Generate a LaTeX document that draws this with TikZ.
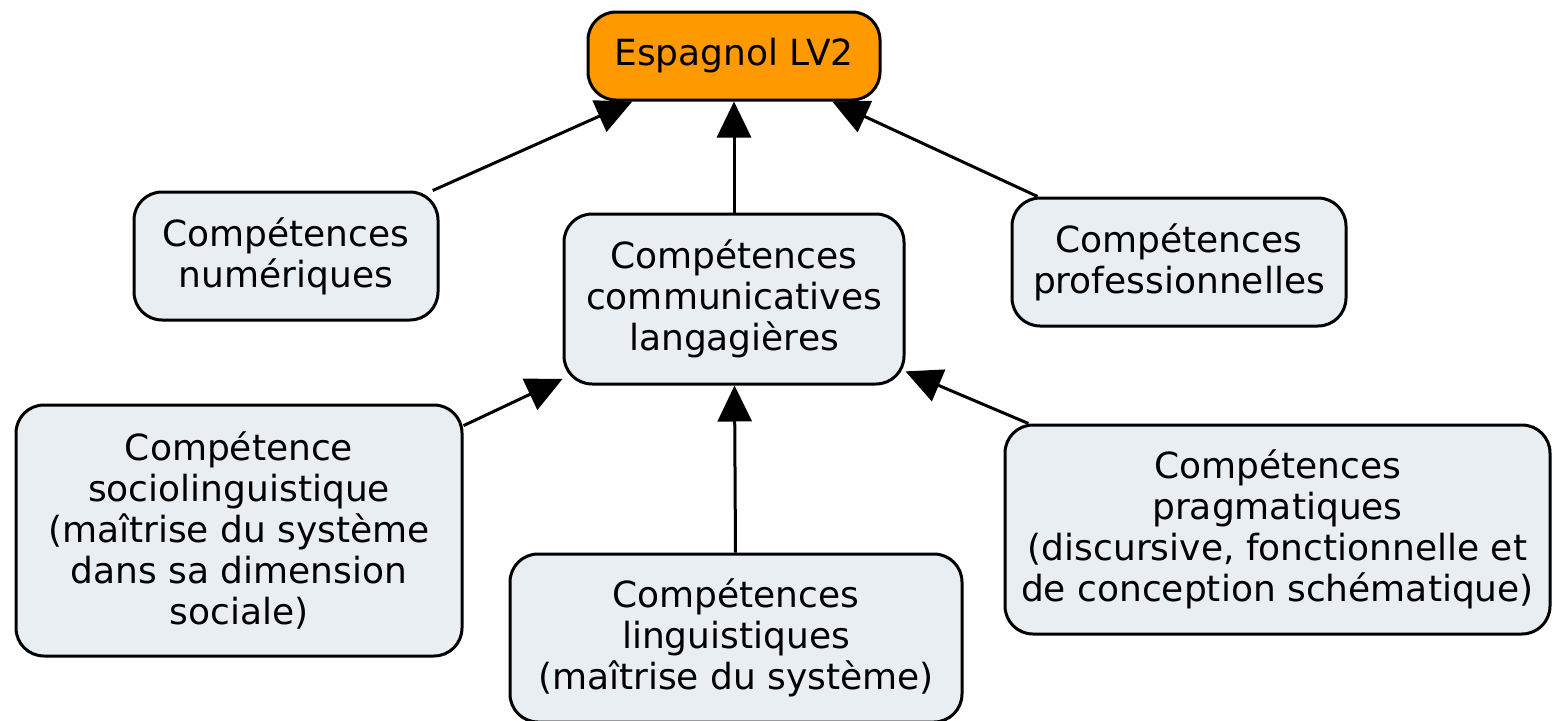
\documentclass[tikz,border=0pt]{standalone}
\usepackage{fontspec}
\setmainfont{DejaVu Sans}
\usetikzlibrary{arrows.meta,backgrounds}
\definecolor{boxfill}{RGB}{233,238,243}
\definecolor{orangefill}{RGB}{255,153,0}
\begin{document}
\begin{tikzpicture}[x=1pt,y=-1pt,
  box/.style={draw, line width=3pt, rounded corners=28pt, fill=boxfill,
    align=center, font=\fontsize{36}{41}\selectfont, inner sep=0pt},
  conn/.style={line width=3pt, -{Triangle[length=36pt,width=34pt]}}]
\useasboundingbox (0,0) rectangle (1552,720);
\node[box, fill=orangefill, minimum width=292pt, minimum height=88pt] (esp) at (734,56) {Espagnol LV2};
\node[box, minimum width=304pt, minimum height=128pt] (num) at (286,256) {Compétences\\numériques};
\node[box, minimum width=340pt, minimum height=170pt] (comm) at (734,299) {Compétences\\communicatives\\langagières};
\node[box, minimum width=334pt, minimum height=128pt] (prof) at (1179,262) {Compétences\\professionnelles};
\node[box, minimum width=446pt, minimum height=251pt] (socio) at (239,530.5) {Compétence\\sociolinguistique\\(maîtrise du système\\dans sa dimension\\sociale)};
\node[box, minimum width=452pt, minimum height=168pt] (ling) at (736,638) {Compétences\\linguistiques\\(maîtrise du système)};
\node[box, minimum width=545pt, minimum height=209pt] (prag) at (1277.5,529.5) {Compétences\\pragmatiques\\(discursive, fonctionnelle et\\de conception schématique)};
\begin{scope}[on background layer]
\draw[conn] (num) -- (esp);
\draw[conn] (comm) -- (esp);
\draw[conn] (prof) -- (esp);
\draw[conn] (socio) -- (comm);
\draw[conn] (ling) -- (comm);
\draw[conn] (prag) -- (comm);
\end{scope}
\end{tikzpicture}
\end{document}
